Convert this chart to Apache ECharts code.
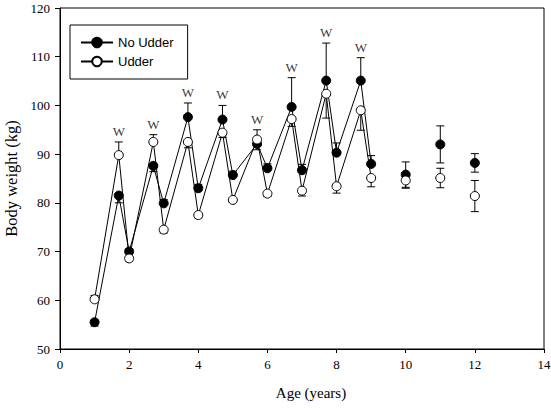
<!DOCTYPE html>
<html lang="en">
<head>
    <meta charset="UTF-8">
    <title>Body weight by age</title>
    <script src="https://cdn.jsdelivr.net/npm/echarts@6/dist/echarts.min.js"></script>
    <style>
        html, body { margin: 0; padding: 0; background: #fff; }
    </style>
</head>
<body>
    <div id="main" style="width:551px;height:410px;"></div>
    <script>
        // age (years) of each weighing
        var ages = [1, 1.7, 2, 2.7, 3, 3.7, 4, 4.7, 5, 5.7, 6, 6.7, 7, 7.7, 8, 8.7, 9, 10, 11, 12];
        // mean body weight (kg)
        var noUdder = [55.5, 81.5, 70.0, 87.6, 79.9, 97.6, 83.0, 97.1, 85.7, 92.1, 87.1, 99.7, 86.7, 105.1, 90.3, 105.1, 88.0, 85.8, 92.0, 88.2];
        var udder   = [60.2, 89.8, 68.6, 92.5, 74.5, 92.5, 77.5, 94.4, 80.6, 93.0, 81.9, 97.2, 82.5, 102.4, 83.4, 99.0, 85.1, 84.6, 85.1, 81.4];
        // standard errors
        var noUdderSE = [0.8, 1.5, 0.6, 1.2, 0.8, 2.9, 0.8, 2.9, 0.8, 1.2, 0.9, 6.0, 1.2, 7.7, 2.0, 4.7, 1.7, 2.6, 3.8, 1.9];
        var udderSE   = [0.8, 2.7, 0.6, 1.5, 0.7, 1.2, 0.6, 1.0, 0.5, 2.0, 0.6, 1.5, 1.1, 5.0, 1.4, 4.1, 1.8, 1.6, 2.0, 3.2];
        // ages marked "W"
        var wAges = [1.7, 2.7, 3.7, 4.7, 5.7, 6.7, 7.7, 8.7];
        var lastLinked = 9; // points after this age are not joined

        var xTicks = [0, 2, 4, 6, 8, 10, 12, 14];
        var yTicks = [50, 60, 70, 80, 90, 100, 110, 120];

        var chart = echarts.init(document.getElementById('main'), null, { renderer: 'svg' });

        function pairs(vals, keep) {
            var out = [];
            ages.forEach(function (a, i) {
                if (keep(a)) out.push([a, vals[i]]);
            });
            return out;
        }
        var linked = function (a) { return a <= lastLinked; };
        var alone = function (a) { return a > lastLinked; };

        // error bars: the higher group goes up, the lower goes down; lone points get both
        var bars = [];
        ages.forEach(function (a, i) {
            [[noUdder, noUdderSE, udder], [udder, udderSE, noUdder]].forEach(function (g) {
                var m = g[0][i], e = g[1][i], o = g[2][i];
                if (a > lastLinked) {
                    bars.push([a, m, m + e]);
                    bars.push([a, m, m - e]);
                } else if (m >= o) {
                    bars.push([a, m, m + e]);
                } else {
                    bars.push([a, m, m - e]);
                }
            });
        });

        var wData = wAges.map(function (a) {
            var i = ages.indexOf(a);
            return [a, Math.max(noUdder[i] + noUdderSE[i], udder[i] + udderSE[i])];
        });

        function renderBar(params, api) {
            var x = api.value(0);
            var p1 = api.coord([x, api.value(1)]);
            var p2 = api.coord([x, api.value(2)]);
            return {
                type: 'group',
                children: [
                    { type: 'line', shape: { x1: p1[0], y1: p1[1], x2: p2[0], y2: p2[1] }, style: { stroke: '#000', lineWidth: 1 } },
                    { type: 'line', shape: { x1: p2[0] - 4, y1: p2[1], x2: p2[0] + 4, y2: p2[1] }, style: { stroke: '#000', lineWidth: 1 } }
                ]
            };
        }

        var serif = '"Liberation Serif", "DejaVu Serif", serif';
        var sans = '"Liberation Sans", Arial, sans-serif';

        chart.setOption({
            backgroundColor: '#fff',
            animation: false,
            grid: {
                left: 60, right: 7, top: 8, bottom: 61,
                outerBoundsMode: 'none',
                show: true, borderColor: '#000', borderWidth: 1
            },
            legend: {
                orient: 'vertical',
                left: 70, top: 25,
                padding: [11, 14, 11, 10],
                itemWidth: 32, itemHeight: 12, itemGap: 6,
                borderColor: '#000', borderWidth: 1,
                data: ['No Udder', 'Udder'],
                lineStyle: { width: 2 },
                textStyle: { fontFamily: sans, fontSize: 13, color: '#000' }
            },
            xAxis: {
                type: 'value',
                min: xTicks[0], max: xTicks[xTicks.length - 1], interval: 2,
                name: 'Age (years)',
                nameLocation: 'middle',
                nameGap: 36,
                nameTextStyle: { fontFamily: serif, fontSize: 15, color: '#000', padding: [0, 0, 0, 18] },
                axisLine: { lineStyle: { color: '#000' } },
                axisTick: { length: 4, lineStyle: { color: '#000' } },
                axisLabel: { fontFamily: serif, fontSize: 13, color: '#000', margin: 9 },
                splitLine: { show: false }
            },
            yAxis: {
                type: 'value',
                min: yTicks[0], max: yTicks[yTicks.length - 1], interval: 10,
                name: 'Body weight (kg)',
                nameLocation: 'middle',
                nameGap: 36,
                nameTextStyle: { fontFamily: serif, fontSize: 16.5, color: '#000' },
                axisLine: { show: true, lineStyle: { color: '#000' } },
                axisTick: { show: true, length: 5, lineStyle: { color: '#000' } },
                axisLabel: { fontFamily: serif, fontSize: 13, color: '#000', margin: 10 },
                splitLine: { show: false }
            },
            series: [
                {
                    type: 'custom',
                    renderItem: renderBar,
                    data: bars,
                    z: 1,
                    silent: true
                },
                {
                    name: 'No Udder',
                    type: 'line',
                    data: pairs(noUdder, linked),
                    symbol: 'circle',
                    symbolSize: 9,
                    lineStyle: { color: '#000', width: 1 },
                    itemStyle: { color: '#000', borderColor: '#000', borderWidth: 1 },
                    z: 3
                },
                {
                    name: 'Udder',
                    type: 'line',
                    data: pairs(udder, linked),
                    symbol: 'circle',
                    symbolSize: 9,
                    lineStyle: { color: '#000', width: 1 },
                    itemStyle: { color: '#fff', borderColor: '#000', borderWidth: 1 },
                    z: 4
                },
                {
                    name: 'No Udder',
                    type: 'scatter',
                    data: pairs(noUdder, alone),
                    symbol: 'circle',
                    symbolSize: 9,
                    itemStyle: { color: '#000', borderColor: '#000', borderWidth: 1, opacity: 1 },
                    z: 3
                },
                {
                    name: 'Udder',
                    type: 'scatter',
                    data: pairs(udder, alone),
                    symbol: 'circle',
                    symbolSize: 9,
                    itemStyle: { color: '#fff', borderColor: '#000', borderWidth: 1, opacity: 1 },
                    z: 4
                },
                {
                    type: 'scatter',
                    data: wData,
                    symbolSize: 0,
                    silent: true,
                    label: {
                        show: true,
                        position: 'top',
                        distance: 4,
                        formatter: 'W',
                        fontFamily: serif,
                        fontSize: 13,
                        color: '#000'
                    },
                    z: 5
                }
            ]
        });
    </script>
</body>
</html>
